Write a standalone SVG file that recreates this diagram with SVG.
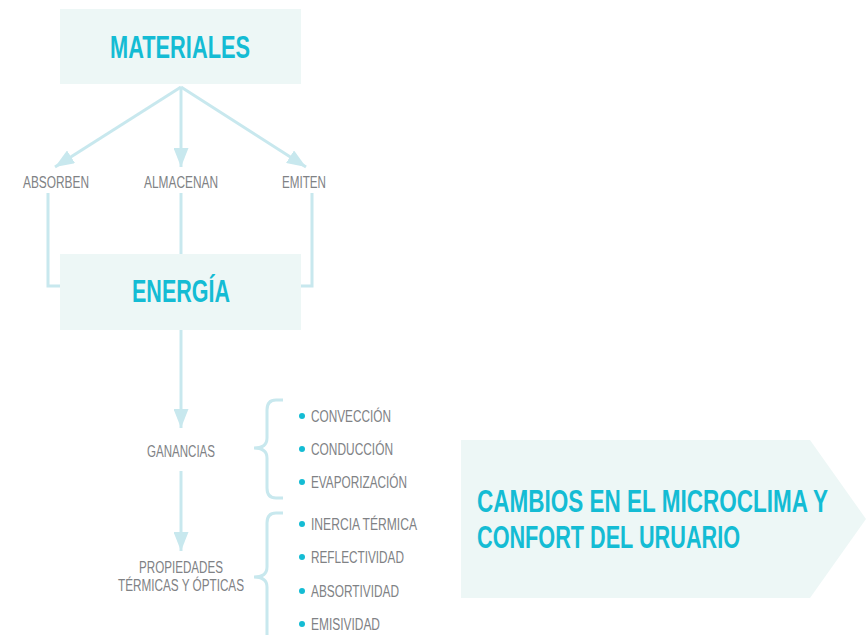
<svg xmlns="http://www.w3.org/2000/svg" width="866" height="635" viewBox="0 0 866 635">
<defs>
<marker id="ah" markerUnits="userSpaceOnUse" markerWidth="19" markerHeight="15" refX="19" refY="7.5" orient="auto">
<path d="M0,0 L19,7.5 L0,15 z" fill="#c8e8ee"/>
</marker>
<style>
.box{fill:#edf7f6}
.big{font-family:"Liberation Sans",Arial,sans-serif;font-weight:bold;font-size:32px;fill:#14bcd4}
.sm{font-family:"Liberation Sans",Arial,sans-serif;font-size:16px;fill:#808285}
.ln{fill:none;stroke:#c8e8ee;stroke-width:3}
.dot{fill:#14bcd4}
</style>
</defs>
<rect width="866" height="635" fill="#ffffff"/>
<g id="connectors">
<line class="ln" x1="181" y1="87" x2="55" y2="167" marker-end="url(#ah)"/>
<line class="ln" x1="181" y1="87" x2="181" y2="167" marker-end="url(#ah)"/>
<line class="ln" x1="181" y1="87" x2="306" y2="167" marker-end="url(#ah)"/>
<polyline class="ln" points="48,193 48,286 60,286"/>
<line class="ln" x1="181" y1="193" x2="181" y2="254"/>
<polyline class="ln" points="312,193 312,286 301,286"/>
<line class="ln" x1="181" y1="330" x2="181" y2="428" marker-end="url(#ah)"/>
<line class="ln" x1="181" y1="471" x2="181" y2="551" marker-end="url(#ah)"/>
<path class="ln" d="M283,400 L276,400 Q267,400 267,410 L267,438 Q267,448 254,448 Q267,448 267,458 L267,488 Q267,498 276,498 L283,498"/>
<path class="ln" d="M283,513 L276,513 Q267,513 267,523 L267,567 Q267,577 254,577 Q267,577 267,587 L267,640"/>
</g>
<g id="materiales">
<rect class="box" x="60" y="9" width="241" height="75"/>
<text class="big" x="110" y="58" textLength="140" lengthAdjust="spacingAndGlyphs">MATERIALES</text>
</g>
<g id="absorben"><text class="sm" x="23" y="188" textLength="66" lengthAdjust="spacingAndGlyphs">ABSORBEN</text></g>
<g id="almacenan"><text class="sm" x="144" y="188" textLength="74" lengthAdjust="spacingAndGlyphs">ALMACENAN</text></g>
<g id="emiten"><text class="sm" x="282" y="188" textLength="44" lengthAdjust="spacingAndGlyphs">EMITEN</text></g>
<g id="energia">
<rect class="box" x="60" y="254" width="241" height="76"/>
<text class="big" x="132" y="302" textLength="98" lengthAdjust="spacingAndGlyphs">ENERGÍA</text>
</g>
<g id="ganancias"><text class="sm" x="147" y="457" textLength="68" lengthAdjust="spacingAndGlyphs">GANANCIAS</text></g>
<g id="propiedades">
<text class="sm" x="139" y="573" textLength="84" lengthAdjust="spacingAndGlyphs">PROPIEDADES</text>
<text class="sm" x="118" y="591" textLength="126" lengthAdjust="spacingAndGlyphs">TÉRMICAS Y ÓPTICAS</text>
</g>
<g id="ganancias-list">
<circle class="dot" cx="302" cy="416" r="3"/><text class="sm" x="311" y="422" textLength="80" lengthAdjust="spacingAndGlyphs">CONVECCIÓN</text>
<circle class="dot" cx="302" cy="449" r="3"/><text class="sm" x="311" y="455" textLength="82" lengthAdjust="spacingAndGlyphs">CONDUCCIÓN</text>
<circle class="dot" cx="302" cy="482" r="3"/><text class="sm" x="311" y="488" textLength="96" lengthAdjust="spacingAndGlyphs">EVAPORIZACIÓN</text>
</g>
<g id="propiedades-list">
<circle class="dot" cx="302" cy="524" r="3"/><text class="sm" x="311" y="530" textLength="106" lengthAdjust="spacingAndGlyphs">INERCIA TÉRMICA</text>
<circle class="dot" cx="302" cy="557" r="3"/><text class="sm" x="311" y="563" textLength="93" lengthAdjust="spacingAndGlyphs">REFLECTIVIDAD</text>
<circle class="dot" cx="302" cy="591" r="3"/><text class="sm" x="311" y="597" textLength="88" lengthAdjust="spacingAndGlyphs">ABSORTIVIDAD</text>
<circle class="dot" cx="302" cy="624" r="3"/><text class="sm" x="311" y="630" textLength="69" lengthAdjust="spacingAndGlyphs">EMISIVIDAD</text>
</g>
<g id="cambios">
<polygon class="box" points="461,440 810,440 866,519 810,598 461,598"/>
<text class="big" x="477" y="512" textLength="351" lengthAdjust="spacingAndGlyphs">CAMBIOS EN EL MICROCLIMA Y</text>
<text class="big" x="477" y="548" textLength="263" lengthAdjust="spacingAndGlyphs">CONFORT DEL URUARIO</text>
</g>
</svg>
